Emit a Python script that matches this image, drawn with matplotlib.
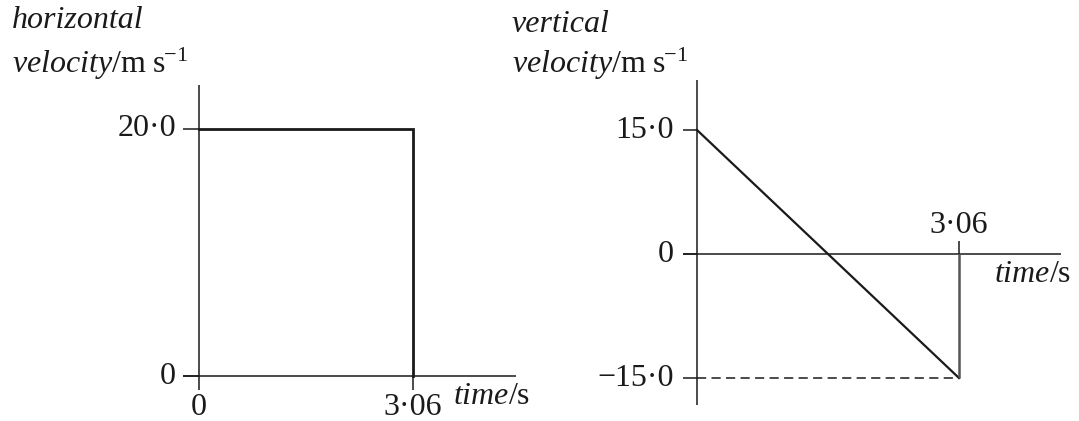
import matplotlib
matplotlib.use("Agg")
import matplotlib.pyplot as plt

plt.rcParams['font.family'] = ['Liberation Serif', 'DejaVu Serif']
plt.rcParams['mathtext.fontset'] = 'custom'
plt.rcParams['mathtext.rm'] = 'Liberation Serif'
plt.rcParams['mathtext.it'] = 'Liberation Serif:italic'

# ---- data ----
t_end = 3.06
h_time = [0, 3.06, 3.06]
h_vel = [20.0, 20.0, 0.0]
v_time = [0, 3.06]
v_vel = [15.0, -15.0]
h_yticks = [0, 20.0]
h_ytick_labels = ["0", "20·0"]
h_xticks = [0, 3.06]
h_xtick_labels = ["0", "3·06"]
v_yticks = [15.0, 0, -15.0]
v_ytick_labels = ["15·0", "0", "−15·0"]
v_xtick_labels = ["3·06"]

W, H = 1079, 421
fig = plt.figure(figsize=(W / 100, H / 100), dpi=100)
FS = 23
INK = '#1a1a1a'
UNIT_LABEL = r"$\mathit{velocity}/\mathrm{m\ s}^{\!\!-\!1}$"
TIME_LABEL = r"$\mathit{time}/\mathrm{s}$"


def make_axes(px_l, px_r, x0_px, x_scale, y0_px, y_scale):
    ax = fig.add_axes([px_l / W, 0, (px_r - px_l) / W, 1])
    ax.set_xlim((px_l - x0_px) / x_scale, (px_r - x0_px) / x_scale)
    ax.set_ylim((y0_px - H) / y_scale, y0_px / y_scale)
    ax.axis('off')
    return ax


# ---------------- left panel ----------------
sx = (413 - 199) / 3.06
sy = (376 - 129) / 20.0
axL = make_axes(0, 540, 199, sx, 376, sy)
# axes
axL.plot([0, 0], [(376 - 85) / sy, (376 - 390) / sy], color=INK, lw=1.1, solid_capstyle='butt')
axL.plot([(183 - 199) / sx, (516 - 199) / sx], [0, 0], color=INK, lw=1.1, solid_capstyle='butt')
# ticks
for yv in h_yticks:
    axL.plot([(183 - 199) / sx, 0], [yv, yv], color=INK, lw=1.1, solid_capstyle='butt')
axL.plot([t_end, t_end], [0, -14 / sy], color=INK, lw=1.1, solid_capstyle='butt')
# data
axL.plot(h_time, h_vel, color=INK, lw=2.0, solid_joinstyle='miter')
# tick labels
for yv, lab in zip(h_yticks, h_ytick_labels):
    axL.annotate(lab, (0, yv), xytext=(-23, 0), textcoords='offset pixels',
                 ha='right', va='center', fontsize=FS, color=INK)
for xv, lab in zip(h_xticks, h_xtick_labels):
    axL.annotate(lab, (xv, 0), xytext=(0, -17), textcoords='offset pixels',
                 ha='center', va='top', fontsize=FS, color=INK)
axL.annotate(TIME_LABEL, ((516 - 199) / sx, 0), xytext=(14, -6),
             textcoords='offset pixels', ha='right', va='top', fontsize=FS, color=INK)
axL.annotate("horizontal", (0, (376 - 21) / sy), xytext=(12 - 199, 0), textcoords='offset pixels',
             ha='left', va='center', fontsize=FS, style='italic', color=INK)
axL.annotate(UNIT_LABEL, (0, (376 - 64) / sy), xytext=(12 - 199, 0),
             textcoords='offset pixels', ha='left', va='center', fontsize=FS, color=INK)

# ---------------- right panel ----------------
rsx = (959 - 697) / 3.06
rsy = (377 - 129) / 30.0
axR = make_axes(540, 1079, 697, rsx, 254, rsy)
axR.plot([0, 0], [(254 - 80) / rsy, (254 - 405) / rsy], color=INK, lw=1.1, solid_capstyle='butt')
axR.plot([(683 - 697) / rsx, (1061 - 697) / rsx], [0, 0], color=INK, lw=1.1, solid_capstyle='butt')
for yv in v_yticks:
    axR.plot([(683 - 697) / rsx, 0], [yv, yv], color=INK, lw=1.1, solid_capstyle='butt')
# tick above axis at end time
axR.plot([t_end, t_end], [13 / rsy, 0], color=INK, lw=1.1, solid_capstyle='butt')
# data
axR.plot(v_time, v_vel, color=INK, lw=1.6)
axR.plot([t_end, t_end], [0, v_vel[-1]], color='#555555', lw=1.8, solid_capstyle='butt')
axR.plot([0, t_end], [v_vel[-1], v_vel[-1]], color=INK, lw=1.1, ls=(0, (6, 3.5)))
for yv, lab in zip(v_yticks, v_ytick_labels):
    axR.annotate(lab, (0, yv), xytext=(-23, 0), textcoords='offset pixels',
                 ha='right', va='center', fontsize=FS, color=INK)
axR.annotate(v_xtick_labels[0], (t_end, 0), xytext=(0, 14), textcoords='offset pixels',
             ha='center', va='bottom', fontsize=FS, color=INK)
axR.annotate(TIME_LABEL, ((1061 - 697) / rsx, 0), xytext=(10, -6),
             textcoords='offset pixels', ha='right', va='top', fontsize=FS, color=INK)
axR.annotate("vertical", (0, (254 - 24) / rsy), xytext=(512 - 697, 0), textcoords='offset pixels',
             ha='left', va='center', fontsize=FS, style='italic', color=INK)
axR.annotate(UNIT_LABEL, (0, (254 - 64) / rsy), xytext=(512 - 697, 0),
             textcoords='offset pixels', ha='left', va='center', fontsize=FS, color=INK)

fig.savefig("out.png", dpi=100, facecolor='white')
